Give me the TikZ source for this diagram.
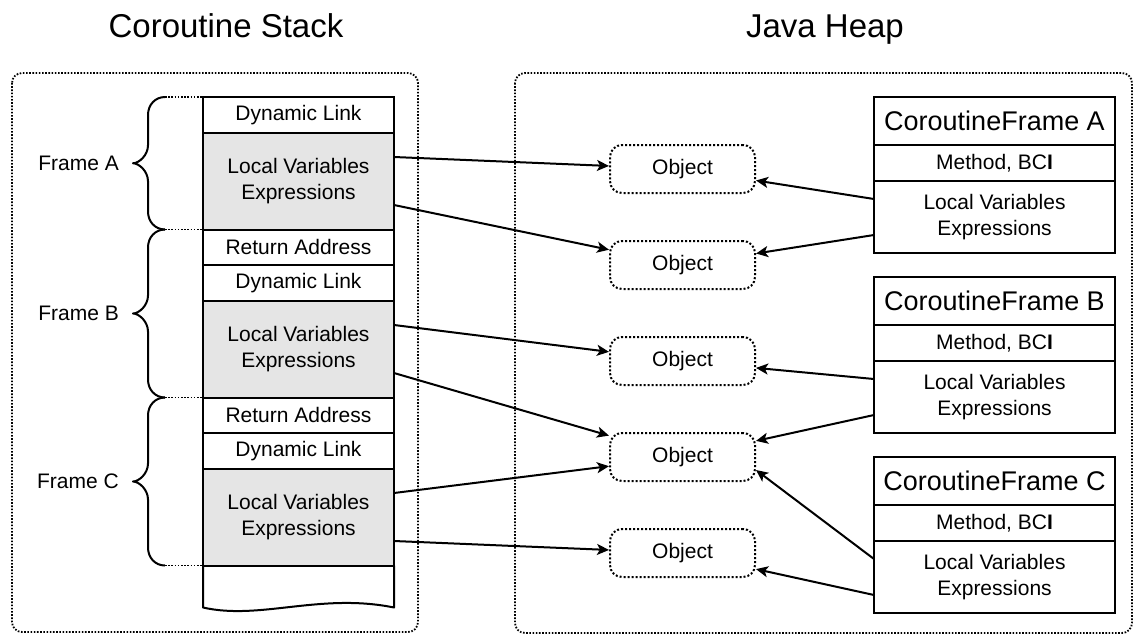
\documentclass[tikz,border=0pt]{standalone}
\usepackage{fontspec}
\setmainfont{Liberation Sans}
\usetikzlibrary{
    arrows.meta,
    calc,
    positioning
}

\tikzset{
    cell/.style={draw, line width=2pt, minimum width=191pt, minimum height=35.5pt,
        inner sep=0pt, outer sep=0pt, align=center, font=\fontsize{21}{25.5}\selectfont},
    locals/.style={cell, fill=black!10, minimum height=97pt},
    cfhead/.style={cell, minimum width=241pt, minimum height=48pt, font=\fontsize{27}{32}\selectfont},
    cfrow/.style={cell, minimum width=241pt, minimum height=36pt},
    cflocals/.style={cfrow, minimum height=72pt},
    object/.style={draw, line width=2pt, dash pattern=on 2pt off 2pt, rounded corners=12pt,
        minimum width=145pt, minimum height=48pt, inner sep=0pt, font=\fontsize{21}{25.5}\selectfont},
    region/.style={draw, line width=1.8pt, dash pattern=on 1.6pt off 1.6pt, rounded corners=10pt},
    guide/.style={line width=1.8pt, dash pattern=on 1.6pt off 1.6pt},
    ref/.style={-{Stealth[length=12pt, width=11pt, inset=3pt]}, line width=2pt},
    bracestroke/.style={line width=2pt, line join=round},
    framelabel/.style={inner sep=0pt, font=\fontsize{21}{25.5}\selectfont},
    title/.style={inner sep=0pt, font=\fontsize{33}{40}\selectfont}
}

% curly brace from #1 (top) to #2 (bottom), tip named #3, label #4
\newcommand{\framebrace}[4]{%
    \coordinate (#3) at ($(#1)!0.5!(#2)+(-32,0)$);
    \draw[bracestroke] (#1) .. controls +(-10,0) and +(0,-10) .. ($(#1)+(-17,18)$)
        -- ($(#3)+(15,-18)$) .. controls +(0,10) and +(6,0) .. (#3)
        .. controls +(6,0) and +(0,-10) .. ($(#3)+(15,18)$)
        -- ($(#2)+(-17,-18)$) .. controls +(0,10) and +(-10,0) .. (#2);
    \node[framelabel, left=14pt of #3] (#3lbl) {#4};
}

\begin{document}
\begin{tikzpicture}[x=1pt, y=-1pt]
    \useasboundingbox (0,0) rectangle (1134,635);
    \fill[white] (0,0) rectangle (1134,635);

    % titles and regions
    \node[title, anchor=base] (stackTitle) at (226,37) {Coroutine Stack};
    \node[title, anchor=base] (heapTitle) at (825,37) {Java Heap};
    \draw[region] (12,73) rectangle (418,632);
    \draw[region] (515,73) rectangle (1132,633);

    % the stack
    \node[cell] (dlA) at (298.5,114.75) {Dynamic Link};
    \node[locals, below=0pt of dlA] (lvA) {Local Variables\\Expressions};
    \node[cell, below=0pt of lvA] (raB) {Return Address};
    \node[cell, below=0pt of raB] (dlB) {Dynamic Link};
    \node[locals, below=0pt of dlB] (lvB) {Local Variables\\Expressions};
    \node[cell, below=0pt of lvB] (raC) {Return Address};
    \node[cell, below=0pt of raC] (dlC) {Dynamic Link};
    \node[locals, below=0pt of dlC] (lvC) {Local Variables\\Expressions};
    \draw[line width=2pt, line join=round] (lvC.south west) -- ++(0,42) coordinate (tailL)
        .. controls +(57,13) and +(-74,-15) .. ++(191,0) coordinate (tailR) -- (lvC.south east);

    % frames
    \coordinate (aT) at ([xshift=-38pt]dlA.north west);
    \coordinate (aB) at ([xshift=-38pt]lvA.south west);
    \coordinate (bB) at ([xshift=-38pt]lvB.south west);
    \coordinate (cB) at ([xshift=-38pt]lvC.south west);
    \draw[guide] (aT) -- (dlA.north west);
    \draw[guide] (aB) -- (lvA.south west);
    \draw[guide] (bB) -- (lvB.south west);
    \draw[guide] (cB) -- (lvC.south west);
    \framebrace{aT}{aB}{tipA}{Frame A}
    \framebrace{aB}{bB}{tipB}{Frame B}
    \framebrace{bB}{cB}{tipC}{Frame C}

    % heap objects
    \node[object] (o1) at (682.5,169) {Object};
    \node[object] (o2) at (682.5,265) {Object};
    \node[object] (o3) at (682.5,361) {Object};
    \node[object] (o4) at (682.5,457) {Object};
    \node[object] (o5) at (682.5,553) {Object};

    % coroutine frames
    \node[cfhead] (cfA) at (994.5,121) {CoroutineFrame A};
    \node[cfrow, below=0pt of cfA] (bciA) {Method, BC\textbf{I}};
    \node[cflocals, below=0pt of bciA] (lcA) {Local Variables\\Expressions};
    \node[cfhead, below=24pt of lcA] (cfB) {CoroutineFrame B};
    \node[cfrow, below=0pt of cfB] (bciB) {Method, BC\textbf{I}};
    \node[cflocals, below=0pt of bciB] (lcB) {Local Variables\\Expressions};
    \node[cfhead, below=24pt of lcB] (cfC) {CoroutineFrame C};
    \node[cfrow, below=0pt of cfC] (bciC) {Method, BC\textbf{I}};
    \node[cflocals, below=0pt of bciC] (lcC) {Local Variables\\Expressions};

    % references from the stack
    \draw[ref] ([yshift=24pt]lvA.east) -- (o1);
    \draw[ref] ([yshift=-24pt]lvA.east) -- (o2);
    \draw[ref] ([yshift=24pt]lvB.east) -- (o3);
    \draw[ref] ([yshift=-24pt]lvB.east) -- (o4);
    \draw[ref] ([yshift=24pt]lvC.east) -- (o4);
    \draw[ref] ([yshift=-24pt]lvC.east) -- (o5);

    % references from the coroutine frames
    \draw[ref] ([yshift=18pt]lcA.west) -- (o1);
    \draw[ref] ([yshift=-18pt]lcA.west) -- (o2);
    \draw[ref] ([yshift=18pt]lcB.west) -- (o3);
    \draw[ref] ([yshift=-18pt]lcB.west) -- (o4);
    \draw[ref] ([yshift=18pt]lcC.west) -- ([yshift=-13pt]o4.east);
    \draw[ref] ([yshift=-18pt]lcC.west) -- (o5);
\end{tikzpicture}
\end{document}
